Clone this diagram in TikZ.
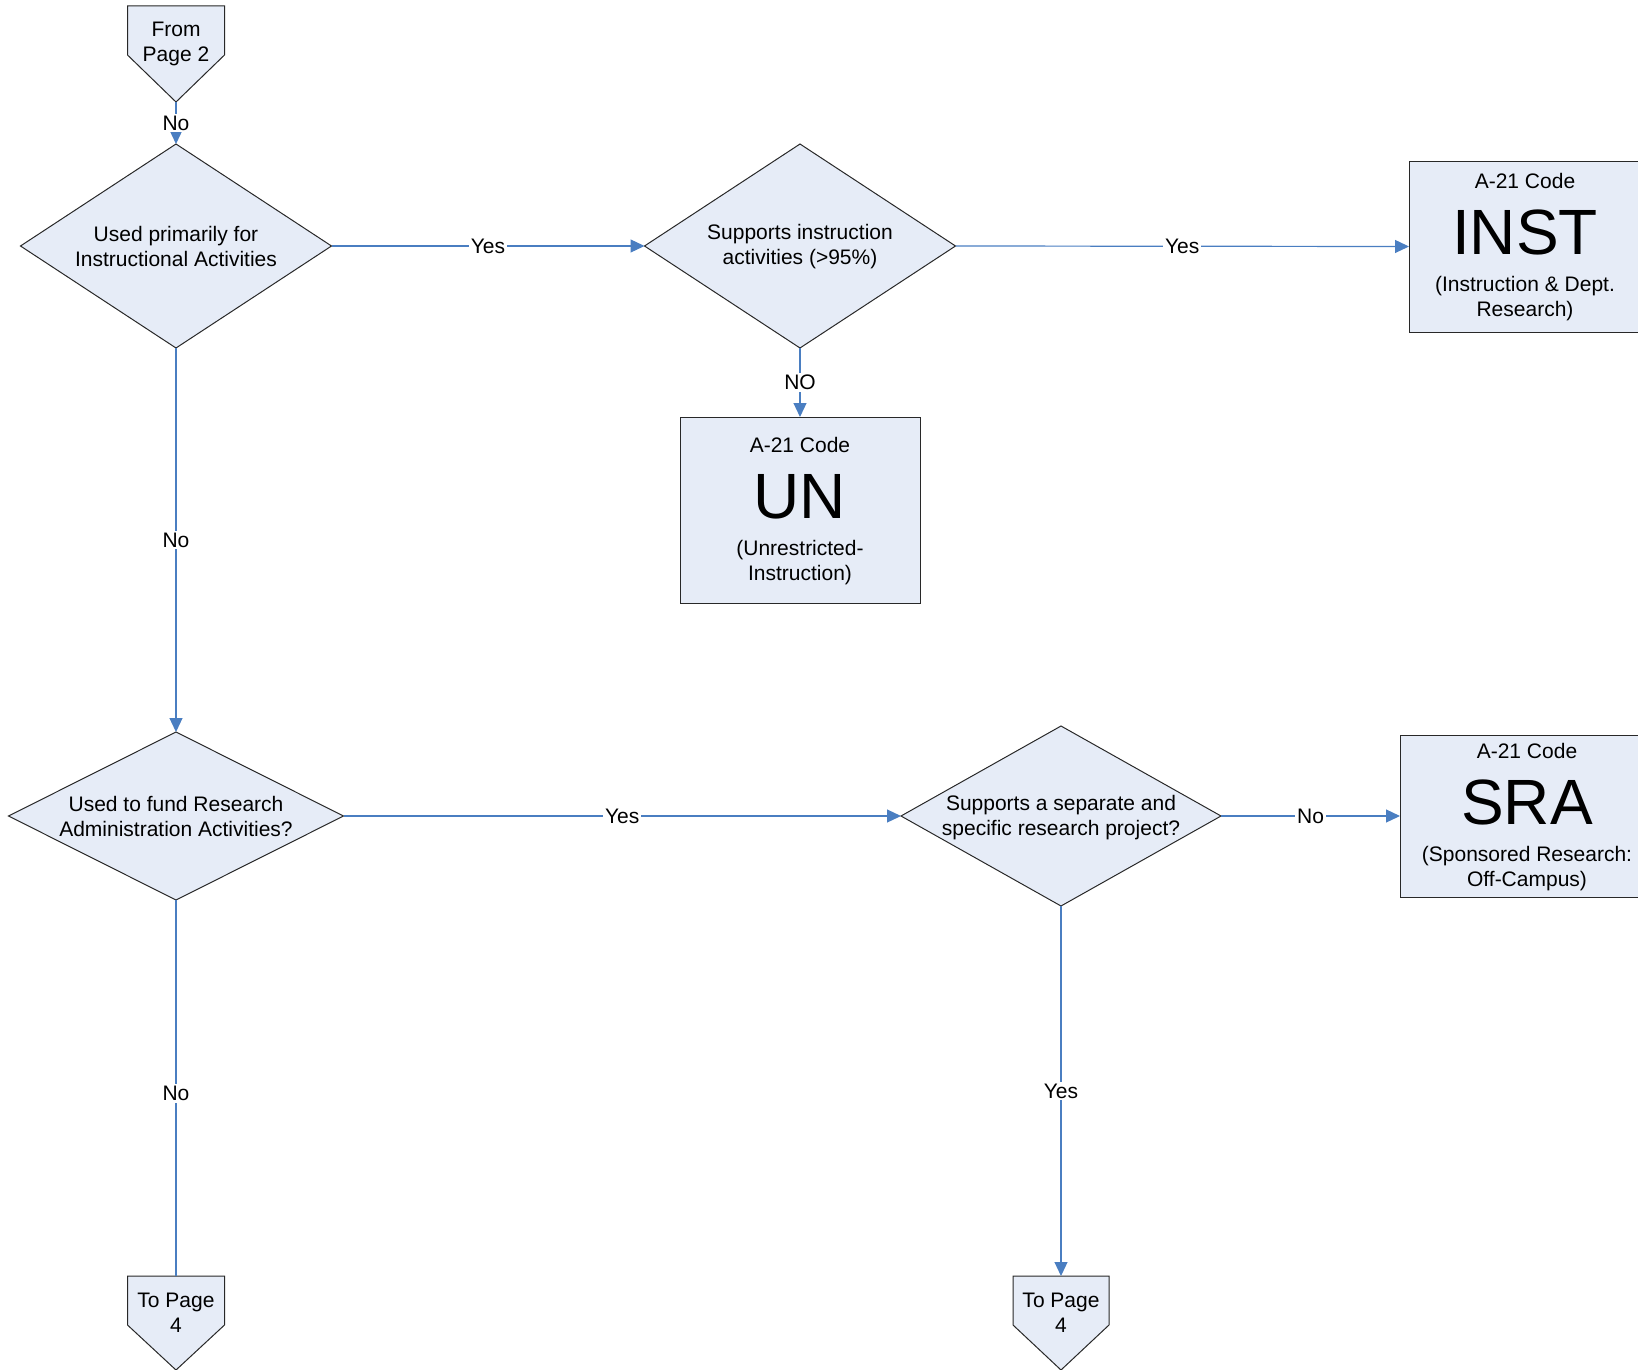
\documentclass[tikz,border=0pt]{standalone}
\usepackage{fontspec}
\setmainfont{Liberation Sans}
\usetikzlibrary{shapes.geometric,arrows.meta,calc}
\definecolor{lineblue}{RGB}{74,126,193}
\definecolor{shapefill}{RGB}{230,236,247}
\definecolor{shapeline}{RGB}{40,40,40}
\begin{document}
\begin{tikzpicture}[x=1pt,y=-1pt,
 txt/.style={font=\fontsize{21}{25}\selectfont, align=center, inner sep=0pt},
 bigcode/.style={font=\fontsize{64}{68}\selectfont, inner sep=0pt, anchor=base},
 smalltxt/.style={font=\fontsize{21}{25}\selectfont, inner sep=0pt, anchor=base},
 decision/.style={diamond, draw=shapeline, fill=shapefill, line width=1pt, inner sep=0pt, outer sep=0pt},
 codebox/.style={rectangle, draw=shapeline, fill=shapefill, line width=1pt, inner sep=0pt, outer sep=0pt},
 frame/.style={rectangle, inner sep=0pt, outer sep=0pt, minimum width=97pt, minimum height=96pt},
 offpage/.style={draw=shapeline, fill=shapefill, line width=1pt},
 conn/.style={draw=lineblue, line width=1.2pt},
 arr/.style={conn, -{Triangle[length=14pt,width=13pt]}},
 lab/.style={font=\fontsize{21}{25}\selectfont, fill=white, inner sep=2pt}]
\useasboundingbox (0,0) rectangle (1638,1370);
\clip (0,0) rectangle (1638,1370);

% off-page connectors
\node[frame] (fp2) at (176,54) {};
\path[offpage] (fp2.north west) -- (fp2.north east) -- ($(fp2.north east)+(0,49)$) -- (fp2.south) -- ($(fp2.north west)+(0,49)$) -- cycle;
\node[txt] (fp2t) at ($(fp2.north)+(0,38)$) {From\\Page 2};

\node[frame, minimum height=94pt] (tp4a) at (176,1323) {};
\path[offpage] (tp4a.north west) -- (tp4a.north east) -- ($(tp4a.north east)+(0,49)$) -- (tp4a.south) -- ($(tp4a.north west)+(0,49)$) -- cycle;
\node[txt] (tp4at) at ($(tp4a.north)+(0,37)$) {To Page\\4};

\node[frame, minimum width=96pt, minimum height=94pt] (tp4b) at (1061,1323) {};
\path[offpage] (tp4b.north west) -- (tp4b.north east) -- ($(tp4b.north east)+(0,49)$) -- (tp4b.south) -- ($(tp4b.north west)+(0,49)$) -- cycle;
\node[txt] (tp4bt) at ($(tp4b.north)+(0,37)$) {To Page\\4};

% decisions
\node[decision, minimum width=311pt, minimum height=204pt] (d1) at (176,246) {};
\node[txt] (d1t) at ($(d1.center)+(0,0)$) {Used primarily for\\Instructional Activities};
\node[decision, minimum width=311pt, minimum height=204pt] (d2) at (800,246) {};
\node[txt] (d2t) at ($(d2.center)+(0,1)$) {Supports instruction\\activities (>95\%)};
\node[decision, minimum width=335pt, minimum height=168pt] (d3) at (176,816) {};
\node[txt] (d3t) at ($(d3.center)+(0,0)$) {Used to fund Research\\Administration Activities?};
\node[decision, minimum width=320pt, minimum height=180pt] (d4) at (1061,816) {};
\node[txt] (d4t) at ($(d4.center)+(0,2)$) {Supports a separate and\\specific research project?};

% code boxes
\node[codebox, minimum width=232pt, minimum height=171pt] (inst) at (1525,246.5) {};
\node[smalltxt] (instA) at ($(inst.center)+(0,-58)$) {A-21 Code};
\node[bigcode] (instB) at ($(inst.center)+(0,8)$) {INST};
\node[smalltxt] (instC) at ($(inst.center)+(0,45)$) {(Instruction \& Dept.};
\node[smalltxt] (instD) at ($(inst.center)+(0,70)$) {Research)};

\node[codebox, minimum width=240pt, minimum height=186pt] (un) at (800,510) {};
\node[smalltxt] (unA) at ($(un.center)+(0,-58)$) {A-21 Code};
\node[bigcode] (unB) at ($(un.center)+(0,8)$) {UN};
\node[smalltxt] (unC) at ($(un.center)+(0,45)$) {(Unrestricted-};
\node[smalltxt] (unD) at ($(un.center)+(0,70)$) {Instruction)};

\node[codebox, minimum width=254pt, minimum height=162pt] (sra) at (1527,816) {};
\node[smalltxt] (sraA) at ($(sra.center)+(0,-58)$) {A-21 Code};
\node[bigcode] (sraB) at ($(sra.center)+(0,8)$) {SRA};
\node[smalltxt] (sraC) at ($(sra.center)+(0,45)$) {(Sponsored Research:};
\node[smalltxt] (sraD) at ($(sra.center)+(0,70)$) {Off-Campus)};

% connectors
\draw[arr] (fp2.south) -- node[lab] {No} (d1.north);
\draw[arr] (d1.east) -- node[lab] {Yes} (d2.west);
\draw[arr] (d2.east) -- node[lab] {Yes} (inst.west);
\draw[arr] (d2.south) -- node[lab] {NO} (un.north);
\draw[arr] (d1.south) -- node[lab] {No} (d3.north);
\draw[arr] (d3.east) -- node[lab] {Yes} (d4.west);
\draw[arr] (d4.east) -- node[lab] {No} (sra.west);
\draw[conn] (d3.south) -- node[lab, pos=0.515] {No} (tp4a.north);
\draw[arr] (d4.south) -- node[lab] {Yes} (tp4b.north);
\end{tikzpicture}
\end{document}
